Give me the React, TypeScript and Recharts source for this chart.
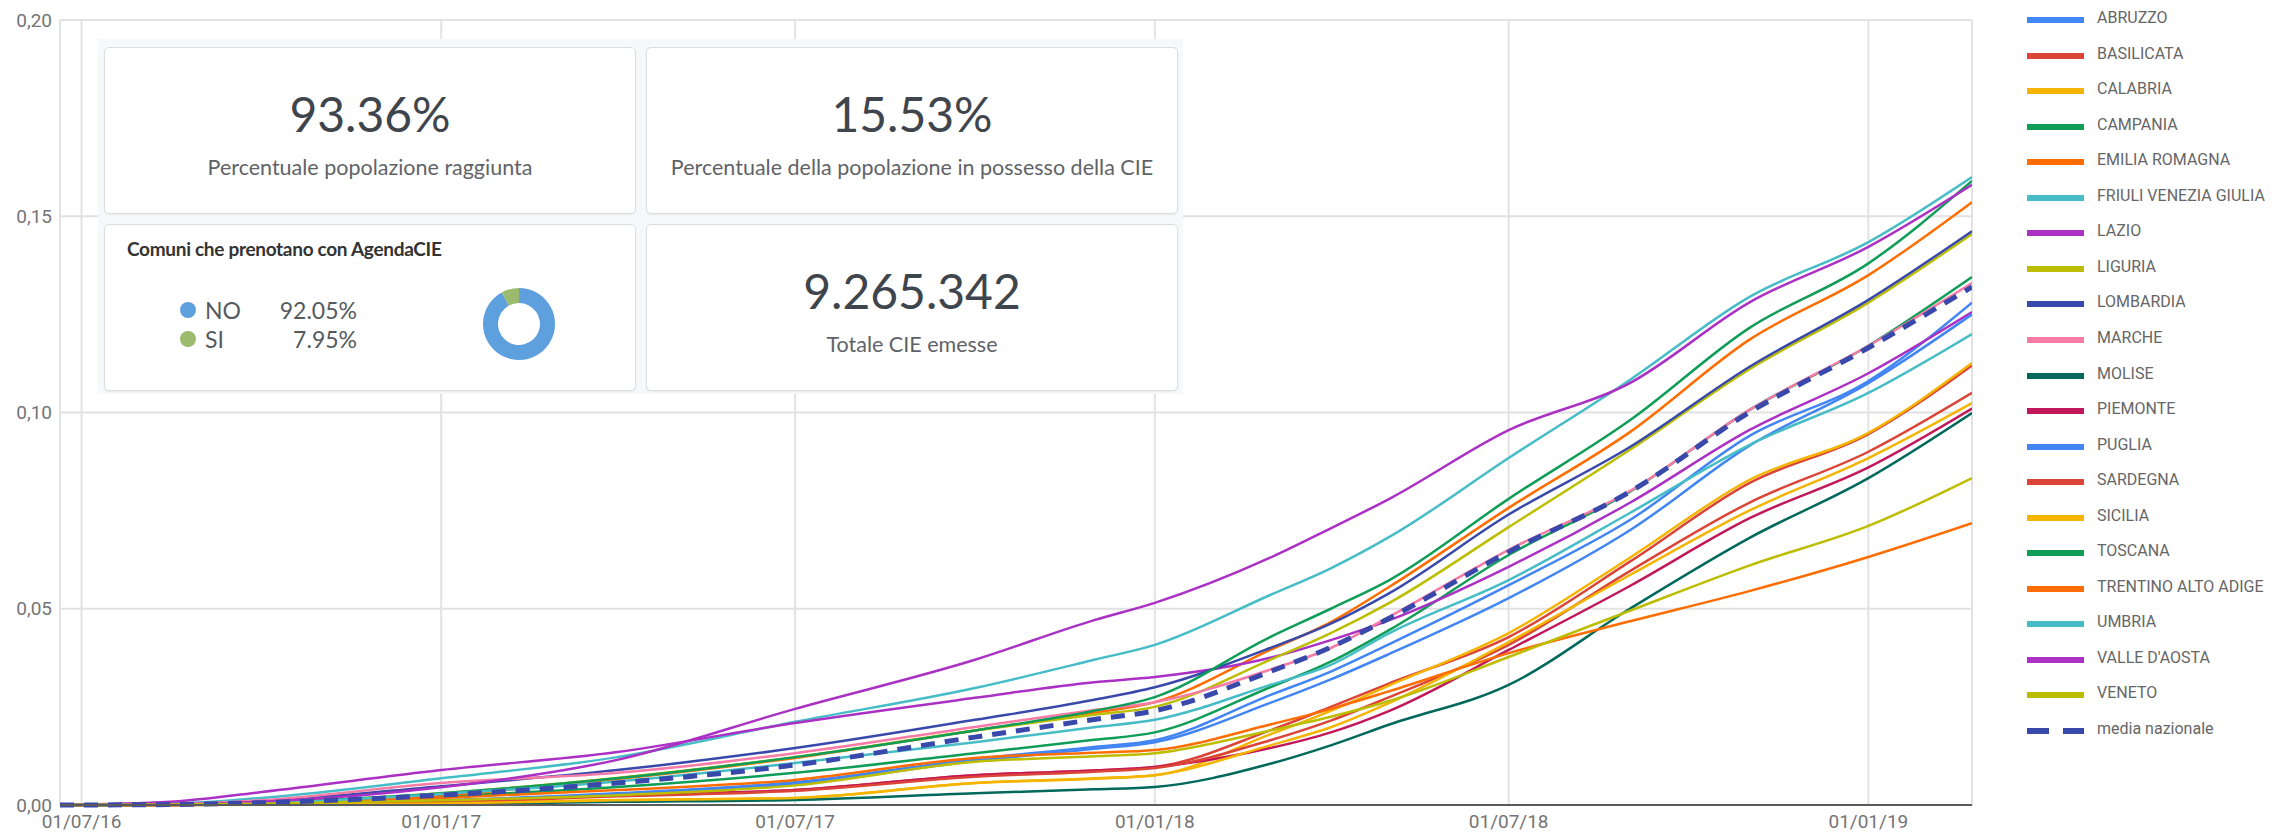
import React from 'react';
import { LineChart, Line, XAxis, YAxis, CartesianGrid, Legend, PieChart, Pie, Cell } from 'recharts';

// ---------- data ----------
const DATES = [
  '2016-06-20', '2016-08-15', '2016-10-01', '2017-01-01', '2017-04-01', '2017-07-01', '2017-10-01',
  '2017-12-01', '2018-01-01', '2018-03-01', '2018-04-01', '2018-05-01', '2018-07-01', '2018-09-01',
  '2018-11-01', '2019-01-01', '2019-02-23',
];
const DOMAIN_DATES = ['2016-06-20', '2019-02-23'];
const TICK_DATES = ['2016-07-01', '2017-01-01', '2017-07-01', '2018-01-01', '2018-07-01', '2019-01-01'];
const Y_TICKS = [0, 0.05, 0.1, 0.15, 0.2];

const ABRUZZO = [0, 0.0001, 0.0003, 0.0012, 0.003, 0.0058, 0.0117, 0.0148, 0.0165, 0.028, 0.034, 0.041, 0.056, 0.0726, 0.094, 0.108, 0.128];
const BASILICATA = [0, 0, 0.0002, 0.0008, 0.0025, 0.0038, 0.0076, 0.0088, 0.0097, 0.019, 0.025, 0.031, 0.0428, 0.062, 0.082, 0.0945, 0.112];
const CALABRIA = [0, 0, 0.0001, 0.0005, 0.0013, 0.0018, 0.0056, 0.0068, 0.0076, 0.018, 0.024, 0.0305, 0.0438, 0.063, 0.0828, 0.0948, 0.1126];
const CAMPANIA = [0, 0.0001, 0.0004, 0.0022, 0.0046, 0.0082, 0.0132, 0.0166, 0.0185, 0.030, 0.0365, 0.0446, 0.0637, 0.0798, 0.1006, 0.117, 0.1345];
const EMILIA_ROMAGNA = [0, 0.0001, 0.0005, 0.0025, 0.0066, 0.012, 0.019, 0.0235, 0.0262, 0.0395, 0.0466, 0.0556, 0.0757, 0.095, 0.1185, 0.135, 0.1536];
const FRIULI = [0, 0.0003, 0.0018, 0.0068, 0.0122, 0.0212, 0.0298, 0.037, 0.0408, 0.0535, 0.0603, 0.0683, 0.0884, 0.1083, 0.1294, 0.1434, 0.16];
const LAZIO = [0, 0.0008, 0.0033, 0.0089, 0.0135, 0.0209, 0.0273, 0.0313, 0.0326, 0.0375, 0.042, 0.0471, 0.0607, 0.077, 0.0955, 0.11, 0.1256];
const LIGURIA = [0, 0.0001, 0.0006, 0.003, 0.0069, 0.0122, 0.019, 0.023, 0.025, 0.037, 0.0438, 0.0515, 0.0708, 0.0905, 0.111, 0.128, 0.1455];
const LOMBARDIA = [0, 0.0002, 0.001, 0.0048, 0.0089, 0.0145, 0.0217, 0.0268, 0.03, 0.04, 0.0462, 0.054, 0.074, 0.0912, 0.1116, 0.1287, 0.1462];
const MARCHE = [0, 0.0002, 0.0012, 0.0056, 0.0082, 0.0132, 0.0199, 0.0242, 0.0262, 0.0345, 0.04, 0.048, 0.065, 0.08, 0.1006, 0.117, 0.133];
const MOLISE = [0, 0, 0.0001, 0.0002, 0.0008, 0.0013, 0.003, 0.004, 0.0046, 0.0105, 0.0152, 0.0205, 0.0306, 0.05, 0.068, 0.0833, 0.0999];
const PIEMONTE = [0, 0, 0.0002, 0.0008, 0.0025, 0.0038, 0.0076, 0.0088, 0.0097, 0.0145, 0.0185, 0.024, 0.0395, 0.0558, 0.073, 0.086, 0.101];
const PUGLIA = [0, 0.0001, 0.0003, 0.001, 0.0028, 0.0054, 0.0112, 0.0143, 0.016, 0.026, 0.032, 0.0385, 0.0527, 0.07, 0.0915, 0.1075, 0.125];
const SARDEGNA = [0, 0, 0.0002, 0.0007, 0.0022, 0.0036, 0.0072, 0.0085, 0.0094, 0.0165, 0.0215, 0.0275, 0.0408, 0.0596, 0.077, 0.09, 0.105];
const SICILIA = [0, 0, 0.0001, 0.0004, 0.0012, 0.0018, 0.0056, 0.0067, 0.0076, 0.0152, 0.0198, 0.026, 0.0415, 0.0586, 0.075, 0.0884, 0.1024];
const TOSCANA = [0, 0.0001, 0.0006, 0.003, 0.0068, 0.0122, 0.019, 0.024, 0.0275, 0.0428, 0.05, 0.0573, 0.078, 0.098, 0.1215, 0.138, 0.159];
const TRENTINO = [0, 0.0001, 0.0003, 0.0018, 0.0038, 0.0064, 0.012, 0.0133, 0.014, 0.0205, 0.0245, 0.029, 0.0387, 0.0468, 0.0545, 0.0632, 0.0718];
const UMBRIA = [0, 0.0001, 0.0005, 0.0028, 0.006, 0.0107, 0.016, 0.0198, 0.0217, 0.0306, 0.0357, 0.0438, 0.0573, 0.0744, 0.0917, 0.105, 0.12];
const VALLE_AOSTA = [0, 0.0001, 0.0008, 0.0045, 0.0115, 0.0245, 0.037, 0.0471, 0.0515, 0.063, 0.0705, 0.078, 0.0955, 0.1075, 0.128, 0.1422, 0.158];
const VENETO = [0, 0.0001, 0.0003, 0.0012, 0.0025, 0.005, 0.011, 0.0124, 0.0132, 0.019, 0.0225, 0.0265, 0.0377, 0.0495, 0.061, 0.0711, 0.0833];
const MEDIA = [0, 0.0001, 0.0006, 0.0025, 0.0056, 0.0102, 0.0173, 0.0218, 0.024, 0.034, 0.0402, 0.0476, 0.0645, 0.0798, 0.1, 0.1165, 0.132];

const SERIES = [
  { name: 'ABRUZZO', color: '#4285F4', values: ABRUZZO },
  { name: 'BASILICATA', color: '#DB4437', values: BASILICATA },
  { name: 'CALABRIA', color: '#F4B400', values: CALABRIA },
  { name: 'CAMPANIA', color: '#0F9D58', values: CAMPANIA },
  { name: 'EMILIA ROMAGNA', color: '#FF6D01', values: EMILIA_ROMAGNA },
  { name: 'FRIULI VENEZIA GIULIA', color: '#46BDC6', values: FRIULI },
  { name: 'LAZIO', color: '#AB30C4', values: LAZIO },
  { name: 'LIGURIA', color: '#BDBD00', values: LIGURIA },
  { name: 'LOMBARDIA', color: '#3949AB', values: LOMBARDIA },
  { name: 'MARCHE', color: '#F77BA7', values: MARCHE },
  { name: 'MOLISE', color: '#00695C', values: MOLISE },
  { name: 'PIEMONTE', color: '#C2185B', values: PIEMONTE },
  { name: 'PUGLIA', color: '#4285F4', values: PUGLIA },
  { name: 'SARDEGNA', color: '#DB4437', values: SARDEGNA },
  { name: 'SICILIA', color: '#F4B400', values: SICILIA },
  { name: 'TOSCANA', color: '#0F9D58', values: TOSCANA },
  { name: 'TRENTINO ALTO ADIGE', color: '#FF6D01', values: TRENTINO },
  { name: 'UMBRIA', color: '#46BDC6', values: UMBRIA },
  { name: "VALLE D'AOSTA", color: '#AB30C4', values: VALLE_AOSTA },
  { name: 'VENETO', color: '#BDBD00', values: VENETO },
  { name: 'media nazionale', color: '#3949AB', values: MEDIA, dashed: true },
];

const CARD_VALUES = ['93.36%', '15.53%', '9.265.342'];
const CARD_LABELS = [
  'Percentuale popolazione raggiunta',
  'Percentuale della popolazione in possesso della CIE',
  'Totale CIE emesse',
];
const AGENDA_TITLE = 'Comuni che prenotano con AgendaCIE';
const AGENDA_LABELS = ['NO', 'SI'];
const AGENDA_VALUES = [92.05, 7.95];
const AGENDA_COLORS = ['#5E9FDD', '#9DBB6E'];

// ---------- helpers ----------
const ts = (d: string) => {
  const [y, m, dd] = d.split('-').map(Number);
  return Date.UTC(y, m - 1, dd);
};
const fmtDate = (t: number) => {
  const d = new Date(t);
  const p = (n: number) => String(n).padStart(2, '0');
  return `${p(d.getUTCDate())}/${p(d.getUTCMonth() + 1)}/${p(d.getUTCFullYear() % 100)}`;
};
const fmtY = (v: number) => v.toFixed(2).replace('.', ',');

const DATA = DATES.map((d, i) => {
  const row: Record<string, number> = { t: ts(d) };
  SERIES.forEach((s) => {
    row[s.name] = s.values[i];
  });
  return row;
});

const LEGEND_ROW = 35.55;

const LegendContent = () => (
  <div style={{ position: 'relative', width: 260, height: 760 }}>
    {SERIES.map((s, i) => (
      <div
        key={s.name}
        style={{
          position: 'absolute',
          left: 0,
          top: 20 + i * LEGEND_ROW - 12,
          height: 24,
          display: 'flex',
          alignItems: 'center',
          whiteSpace: 'nowrap',
        }}
      >
        <svg width={57} height={24} style={{ display: 'block' }}>
          <line
            x1={0}
            x2={57}
            y1={12}
            y2={12}
            stroke={s.color}
            strokeWidth={6}
            strokeDasharray={s.dashed ? '22 14' : undefined}
          />
        </svg>
        <span
          style={{
            marginLeft: 13,
            fontFamily: 'Roboto, sans-serif',
            fontSize: 16,
            color: '#666666',
            lineHeight: '24px',
            marginTop: -4,
          }}
        >
          {s.name}
        </span>
      </div>
    ))}
  </div>
);

const cardBase: React.CSSProperties = {
  position: 'absolute',
  background: '#fff',
  border: '1px solid #dcdde0',
  borderRadius: 5,
  boxShadow: '0 1px 2px rgba(0,0,0,0.06)',
  boxSizing: 'border-box',
  fontFamily: 'Lato, sans-serif',
};

const ValueCard = ({ left, top, value, label }: { left: number; top: number; value: string; label: string }) => (
  <div style={{ ...cardBase, left, top, width: 532, height: 167 }}>
    <div
      style={{
        position: 'absolute',
        left: 0,
        right: 0,
        top: 42,
        textAlign: 'center',
        fontSize: 48,
        lineHeight: '48px',
        color: '#3f454c',
      }}
    >
      {value}
    </div>
    <div
      style={{
        position: 'absolute',
        left: 0,
        right: 0,
        top: 106,
        textAlign: 'center',
        fontSize: 21.5,
        lineHeight: '26px',
        color: '#5f6368',
      }}
    >
      {label}
    </div>
  </div>
);

const AgendaCard = ({ left, top }: { left: number; top: number }) => (
  <div style={{ ...cardBase, left, top, width: 532, height: 167 }}>
    <div
      style={{
        position: 'absolute',
        left: 22,
        top: 12,
        fontSize: 19,
        lineHeight: '24px',
        fontWeight: 700,
        letterSpacing: -0.3,
        color: '#333',
      }}
    >
      {AGENDA_TITLE}
    </div>
    {AGENDA_LABELS.map((lab, i) => (
      <div
        key={lab}
        style={{
          position: 'absolute',
          left: 75,
          top: 71 + i * 29,
          width: 177,
          height: 28,
          fontSize: 23,
          lineHeight: '28px',
          color: '#555a60',
        }}
      >
        <span
          style={{
            position: 'absolute',
            left: 0,
            top: 6,
            width: 16,
            height: 16,
            borderRadius: 8,
            background: AGENDA_COLORS[i],
          }}
        />
        <span style={{ position: 'absolute', left: 25 }}>{lab}</span>
        <span style={{ position: 'absolute', right: 0 }}>{AGENDA_VALUES[i].toFixed(2)}%</span>
      </div>
    ))}
    <div style={{ position: 'absolute', left: 364, top: 49 }}>
      <PieChart width={100} height={100} margin={{ top: 0, right: 0, bottom: 0, left: 0 }}>
        <Pie
          data={AGENDA_LABELS.map((n, i) => ({ name: n, value: AGENDA_VALUES[i] }))}
          dataKey="value"
          cx={50}
          cy={50}
          innerRadius={21}
          outerRadius={36}
          startAngle={90}
          endAngle={-270}
          stroke="none"
          isAnimationActive={false}
        >
          {AGENDA_LABELS.map((n, i) => (
            <Cell key={n} fill={AGENDA_COLORS[i]} />
          ))}
        </Pie>
      </PieChart>
    </div>
  </div>
);

export default function App() {
  return (
    <div style={{ position: 'absolute', left: 0, top: 0, width: 2288, height: 835, background: '#fff', overflow: 'hidden' }}>
      <LineChart
        width={2288}
        height={835}
        data={DATA}
        margin={{ top: 20, right: 316, bottom: 0, left: 0 }}
      >
        <CartesianGrid stroke="#e2e2e2" strokeWidth={2} />
        <XAxis
          dataKey="t"
          type="number"
          scale="time"
          domain={DOMAIN_DATES.map(ts)}
          ticks={TICK_DATES.map(ts)}
          tickFormatter={fmtDate}
          height={30}
          stroke="#5a5a5a"
          strokeWidth={2}
          tickLine={false}
          tick={{ fontFamily: 'Roboto, sans-serif', fontSize: 19, fill: '#757575' }}
          tickMargin={4}
          allowDataOverflow
        />
        <YAxis
          type="number"
          domain={[0, 0.2]}
          ticks={Y_TICKS}
          tickFormatter={fmtY}
          width={60}
          axisLine={false}
          tickLine={false}
          tick={{ fontFamily: 'Roboto, sans-serif', fontSize: 19, fill: '#757575' }}
          tickMargin={2}
        />
        {SERIES.map((s) => (
          <Line
            key={s.name}
            dataKey={s.name}
            name={s.name}
            type="monotone"
            stroke={s.color}
            strokeWidth={s.dashed ? 5 : 2.5}
            strokeDasharray={s.dashed ? '14 10' : undefined}
            dot={false}
            activeDot={false}
            isAnimationActive={false}
          />
        ))}
        <Legend
          layout="vertical"
          align="center"
          verticalAlign="middle"
          content={<LegendContent />}
          wrapperStyle={{ left: 2027, top: 0, width: 260, height: 760 }}
        />
      </LineChart>

      {/* dashboard panel overlay */}
      <div style={{ position: 'absolute', left: 98, top: 39, width: 1085, height: 355, background: '#f7f8f9' }} />
      <ValueCard left={104} top={47} value={CARD_VALUES[0]} label={CARD_LABELS[0]} />
      <ValueCard left={646} top={47} value={CARD_VALUES[1]} label={CARD_LABELS[1]} />
      <AgendaCard left={104} top={224} />
      <ValueCard left={646} top={224} value={CARD_VALUES[2]} label={CARD_LABELS[2]} />
    </div>
  );
}
